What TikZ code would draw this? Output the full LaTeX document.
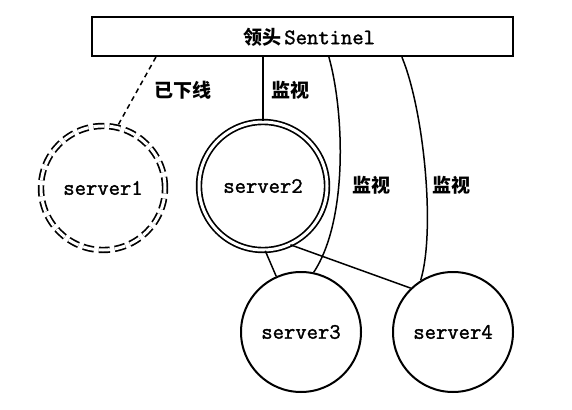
\documentclass[tikz,border=0pt]{standalone}
\usepackage{fontspec}
\newfontfamily\cjk{Noto Sans CJK SC}
\newfontfamily\monob[FakeBold=1.6]{Latin Modern Mono}
\usetikzlibrary{calc}
\begin{document}
\begin{tikzpicture}[x=1pt,y=-1pt,
  mono/.style={font=\monob\fontsize{22}{24}\selectfont},
  lbl/.style={font=\cjk\bfseries\fontsize{19}{21}\selectfont, inner sep=0pt},
  srv/.style={circle, draw, line width=2pt, minimum size=120pt, inner sep=0pt, mono},
  conn/.style={line width=1.5pt},
]
\useasboundingbox (0,0) rectangle (572,409);
\node[draw, line width=2.2pt, minimum width=421pt, minimum height=39pt, inner sep=0pt] (top) at (302.5,36.5) {};
\node[inner sep=0pt] (toptext) at (309,37) {{\cjk\bfseries\fontsize{19}{21}\selectfont 领头} {\monob\fontsize{22}{24}\selectfont Sentinel}};

\node[circle, draw, line width=1.7pt, double, double distance=3pt, dashed, dash pattern=on 11pt off 5pt, minimum size=124pt, inner sep=0pt, mono] (s1) at (103,188) {server1};
\node[circle, draw, line width=1.7pt, double, double distance=3pt, minimum size=128pt, inner sep=0pt, mono] (s2) at (263,186) {server2};
\node[srv] (s3) at (301,332) {server3};
\node[srv] (s4) at (453,332) {server4};

\coordinate (t1) at ($(top.south west)+(65,0)$);
\coordinate (t3) at ($(top.south west)+(238,0)$);
\coordinate (t4) at ($(top.south west)+(311,0)$);

\draw[conn, dashed, dash pattern=on 5pt off 4pt] (t1) -- (s1.77);
\draw[conn] (s2.north) -- (s2.north |- top.south);
\draw[conn] (t3) .. controls ($(t3)+(15,53)$) and ($(s3.78)+(35,-53)$) .. (s3.78);
\draw[conn] (t4) .. controls ($(t4)+(22,53)$) and ($(s4.122)+(15,-50)$) .. (s4.122);
\draw[conn] (s2.-88) -- (s3.114);
\draw[conn] (s2.-65) -- (s4.134);

\node[lbl] (l1) at (183,90) {已下线};
\node[lbl] (l2) at (290,90) {监视};
\node[lbl] (l3) at (371,185) {监视};
\node[lbl] (l4) at (451,185) {监视};
\end{tikzpicture}
\end{document}
